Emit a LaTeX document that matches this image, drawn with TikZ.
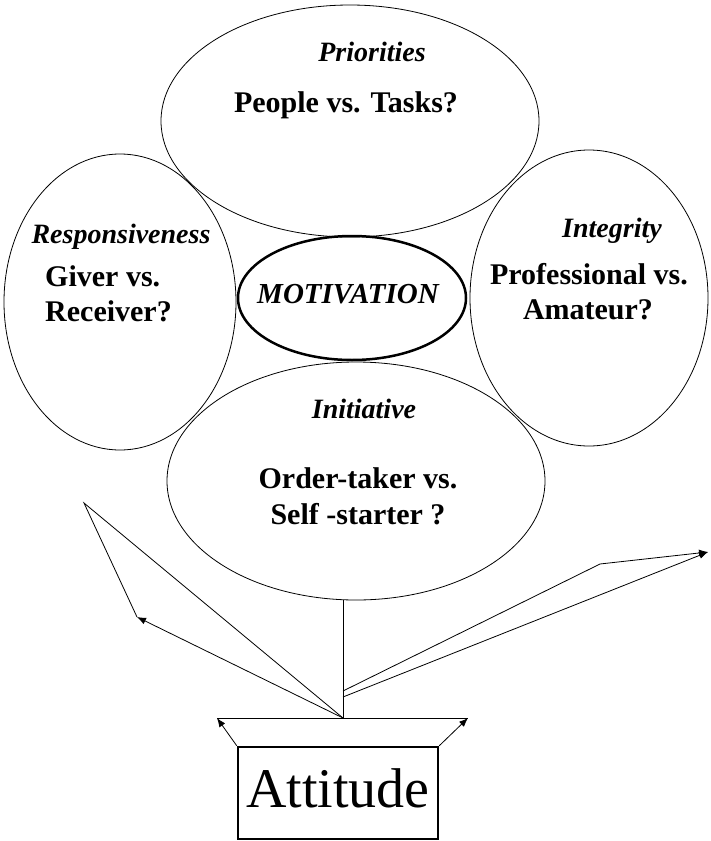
\documentclass[tikz,border=0pt]{standalone}
\usepackage{fontspec}
\setmainfont{Liberation Serif}
\usetikzlibrary{shapes.geometric,arrows.meta}
\tikzset{
  bubble/.style={draw,ellipse,line width=0.8pt,inner sep=0pt},
  head/.style={font=\fontsize{28}{30}\selectfont\bfseries\itshape,inner sep=0pt,anchor=base},
  body/.style={font=\fontsize{30}{34}\selectfont\bfseries,inner sep=0pt,anchor=base},
  conn/.style={line width=0.8pt},
  arr/.style={line width=0.8pt,-{Latex[length=9pt,width=7pt]}}
}
\begin{document}
\begin{tikzpicture}[x=1pt,y=-1pt]
\useasboundingbox (0,0) rectangle (710,841);
% ellipses
\node[bubble,minimum width=378pt,minimum height=232pt] (top) at (350,121) {};
\node[bubble,minimum width=232pt,minimum height=296pt] (left) at (120,302) {};
\node[bubble,minimum width=238pt,minimum height=296pt] (right) at (589,298) {};
\node[bubble,minimum width=378pt,minimum height=238pt] (bot) at (356,481) {};
\node[draw,ellipse,line width=2.5pt,minimum width=228pt,minimum height=124pt,inner sep=0pt] (mot) at (352,298) {};
% texts
\node[head] (t1) at (372,61) {Priorities};
\node[body] (t2) at (346,112) {People vs. Tasks?};
\node[head] (l1) at (121,243) {Responsiveness};
\node[body,anchor=base west] (l2) at (45,286) {Giver vs.};
\node[body,anchor=base west] (l3) at (45,321) {Receiver?};
\node[head] (r1) at (612,237) {Integrity};
\node[body] (r2) at (589,284) {Professional vs.};
\node[body] (r3) at (588,319) {Amateur?};
\node[font=\fontsize{29}{31}\selectfont\bfseries\itshape,inner sep=0pt,anchor=base] (mt) at (348,303) {MOTIVATION};
\node[head] (b1) at (364,418) {Initiative};
\node[body] (b2) at (358,488) {Order-taker vs.};
\node[body] (b3) at (358,524) {Self -starter ?};
% box
\node[draw,line width=2.5pt,minimum width=200pt,minimum height=92pt,inner sep=0pt] (att) at (338,793) {};
\node[font=\fontsize{56}{60}\selectfont,inner sep=0pt,anchor=base] (attx) at (338,807) {Attitude};
% connectors
\coordinate (apex) at (343,718);
\coordinate (L1) at (84,503);
\coordinate (L2) at (137,617);
\coordinate (R1) at (343,691);
\coordinate (R2) at (343,697);
\coordinate (Rm) at (600,564);
\coordinate (Rt) at (708,552);
\coordinate (hl) at (217,718);
\coordinate (hr) at (468,718);
\draw[conn] (bot.south -| apex) -- (apex);
\draw[conn] (apex) -- (L1) -- (L2);
\draw[arr] (apex) -- (L2);
\draw[arr] (R1) -- (Rm) -- (Rt);
\draw[arr] (R2) -- (Rt);
\draw[conn] (hl) -- (hr);
\draw[arr] (att.north west) -- (hl);
\draw[arr] (att.north east) -- (hr);
\end{tikzpicture}
\end{document}
